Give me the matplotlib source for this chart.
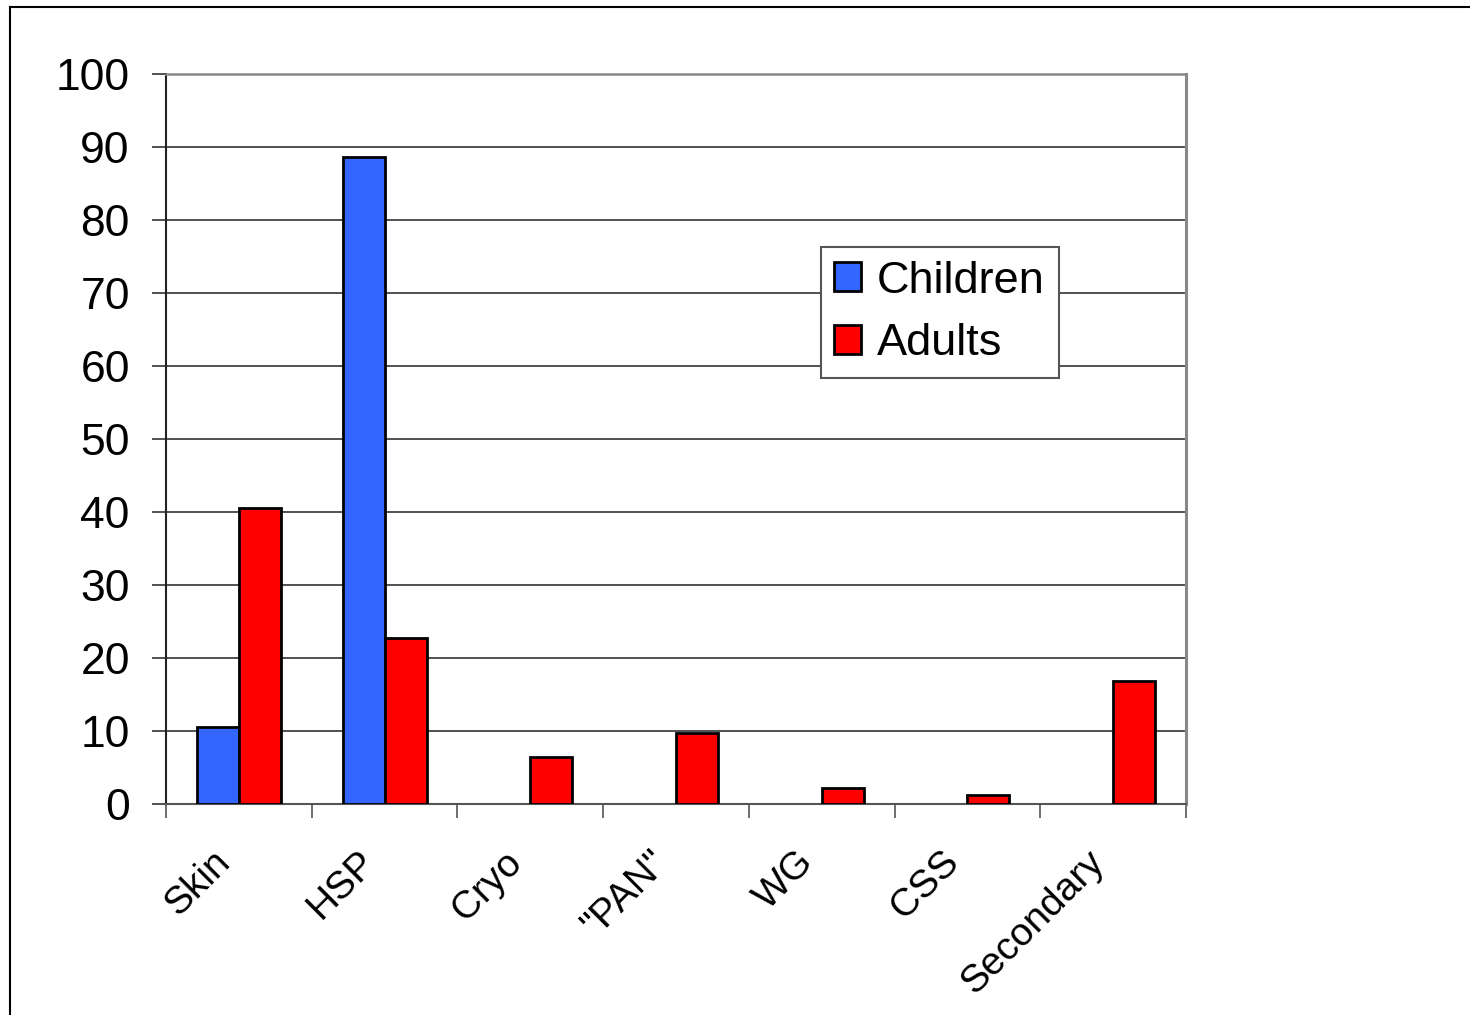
import numpy as np
import matplotlib
matplotlib.use("Agg")
import matplotlib.pyplot as plt
from matplotlib.lines import Line2D
from matplotlib.transforms import ScaledTranslation

plt.rcParams["font.family"] = ["Liberation Sans", "DejaVu Sans"]

# ── Data ──────────────────────────────────────────────────────────────────────
categories = ["Skin", "HSP", "Cryo", '"PAN"', "WG", "CSS", "Secondary"]
children = [10.6, 88.6, 0, 0, 0, 0, 0]
adults = [40.5, 22.7, 6.4, 9.7, 2.2, 1.2, 16.8]
y_ticks = list(range(0, 101, 10))

CHILD_COLOR = "#3366FF"
ADULT_COLOR = "#FF0000"


def main():
    fig = plt.figure(figsize=(14.7, 10.15), dpi=100)
    ax = fig.add_axes([0.1129, 0.2079, 0.6939, 0.7192])

    x = np.arange(len(categories)) + 0.5
    w = 0.288
    b1 = ax.bar(x - w / 2, children, width=w, color=CHILD_COLOR, edgecolor="black",
                linewidth=2, label="Children", zorder=3)
    b2 = ax.bar(x + w / 2, adults, width=w, color=ADULT_COLOR, edgecolor="black",
                linewidth=2, label="Adults", zorder=3)
    # empty bars leave no mark
    for p in list(b1) + list(b2):
        if p.get_height() == 0:
            p.set_visible(False)

    ax.set_xlim(0, len(categories))
    ax.set_ylim(0, 100)

    # y axis
    ax.set_yticks(y_ticks)
    ax.tick_params(axis="y", direction="out", length=10, width=1.2,
                   pad=16, labelsize=32, color="#333333")
    ax.yaxis.grid(True, color="#222222", linewidth=1.1, zorder=0)

    # x axis: ticks on the boundaries, labels at the centres
    ax.set_xticks(np.arange(len(categories) + 1))
    ax.set_xticklabels([])
    ax.set_xticks(x, minor=True)
    ax.set_xticklabels(categories, minor=True, rotation=45, ha="right",
                       va="center", rotation_mode="anchor")
    ax.tick_params(axis="x", which="major", direction="out", length=10,
                   width=1.2, color="#555555")
    ax.tick_params(axis="x", which="minor", length=0, pad=38, labelsize=28)
    shift = ScaledTranslation(-10 / 72, 0, fig.dpi_scale_trans)
    for lab in ax.get_xticklabels(minor=True):
        lab.set_transform(lab.get_transform() + shift)

    ax.spines["left"].set_color("#222222")
    ax.spines["left"].set_linewidth(1.5)
    ax.spines["bottom"].set_color("#555555")
    ax.spines["bottom"].set_linewidth(1.5)
    ax.spines["top"].set_color("#888888")
    ax.spines["top"].set_linewidth(1.8)
    ax.spines["right"].set_color("#888888")
    ax.spines["right"].set_linewidth(2.2)

    leg = ax.legend(loc="upper left", bbox_to_anchor=(0.642, 0.763),
                    fontsize=32.5, frameon=True, fancybox=False, shadow=False,
                    handlelength=0.6, handleheight=0.6, handletextpad=0.35,
                    labelspacing=0.48, borderpad=0.3, borderaxespad=0)
    leg.get_frame().set_edgecolor("#555555")
    leg.get_frame().set_linewidth(1.5)
    leg.get_frame().set_alpha(1)
    for h in leg.legend_handles:
        h.set_linewidth(2)

    # outer frame (top and left edges visible)
    fig.add_artist(Line2D([10 / 1470, 1.0], [1 - 7 / 1015, 1 - 7 / 1015],
                          transform=fig.transFigure, color="black", lw=1.5))
    fig.add_artist(Line2D([10 / 1470, 10 / 1470], [0, 1 - 7 / 1015],
                          transform=fig.transFigure, color="black", lw=1.5))

    fig.savefig("out.png", dpi=100)


if __name__ == "__main__":
    main()
